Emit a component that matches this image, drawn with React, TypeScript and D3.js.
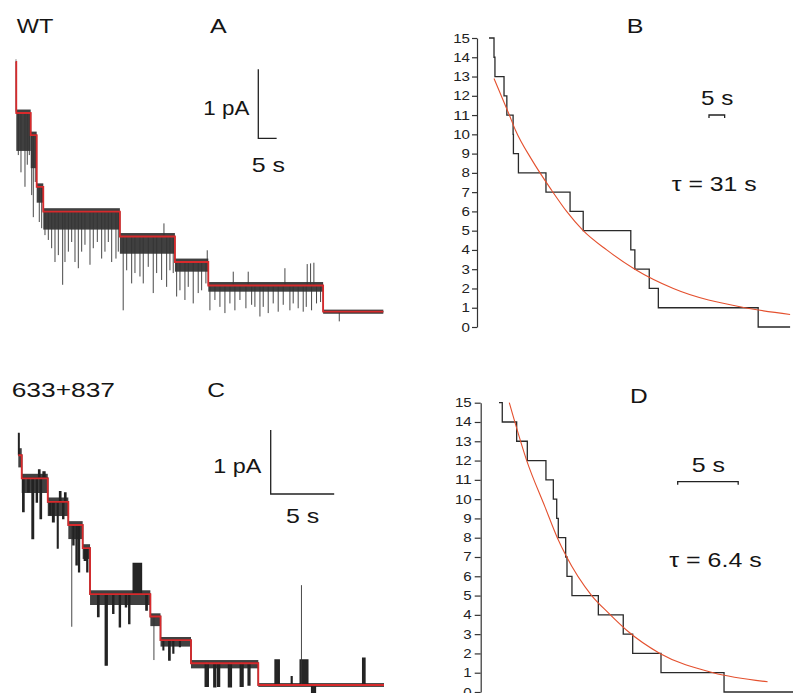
import React, { useEffect, useRef } from "react";
import * as d3 from "d3";

// ---------- A: WT current trace (time s, current pA above baseline)
// idealised levels [t0, t1, pA]
const A_LEVELS: [number, number, number][] = [
  [0, 0.16, 3.62], [0.16, 4.09, 2.88], [4.09, 5.72, 2.56], [5.72, 7.52, 1.81],
  [7.52, 28.4, 1.45], [28.4, 43.4, 1.09], [43.4, 52.5, 0.72], [52.5, 83.8, 0.38],
  [83.8, 100.2, 0],
];
// dense flicker band around each level (pA)
const A_BAND_HIGH = [3.66, 2.93, 2.61, 1.86, 1.5, 1.14, 0.77, 0.43, 0.03];
const A_BAND_LOW = [2.9, 2.33, 2.08, 1.58, 1.19, 0.84, 0.58, 0.29, -0.03];
// brief excursions [t, pA]
const A_SPIKES: [number, number][] = [
  [0.71, 2.27], [1.44, 2.02], [2.53, 1.81], [3.16, 2.13], [3.71, 2.27],
  [4.36, 1.69], [4.8, 1.37], [5.34, 1.88],
  [6.43, 1.3], [7.08, 1.21],
  [7.98, 1.11], [8.89, 1.04], [9.8, 0.92], [10.71, 0.72], [11.62, 0.82], [12.8, 0.39],
  [13.43, 0.72], [14.35, 0.87], [15.26, 1.01], [16.16, 0.72], [17.07, 0.63], [17.98, 0.87],
  [18.88, 0.97], [20.25, 0.68], [21.15, 0.92], [22.25, 1.01], [23.43, 0.77], [24.33, 0.87],
  [25.24, 1.01], [26.16, 0.72], [27.33, 0.77], [27.97, 0.87],
  [29.3, 0.02], [30.25, 0.6], [31.61, 0.41], [32.51, 0.56], [33.87, 0.51], [34.77, 0.41],
  [36.13, 0.65], [37.49, 0.27], [38.42, 0.56], [39.78, 0.46], [40.41, 1.28], [41.14, 0.36],
  [42.04, 0.6], [42.94, 0.56],
  [43.87, 0.22], [44.77, 0.31], [46.13, 0.17], [47.03, 0.36], [48.39, 0.12], [49.75, 0.27],
  [50.68, 0.31], [51.85, 0.41], [52.21, 0.89],
  [52.94, 0.02], [54.3, 0.17], [55.67, 0.07], [57.03, -0.02], [58.39, 0.12], [59.3, 0.58],
  [59.75, 0.02], [61.12, 0.17], [62.75, 0.05], [63.38, 0.58], [64.31, 0.1], [65.2, 0.07],
  [66.57, -0.07], [67.47, 0.07], [68.83, -0.02], [70.19, 0.12], [71.55, 0.0], [72.92, 0.1],
  [73.38, 0.63], [74.74, 0.02], [75.64, 0.12], [77.0, 0.05], [78.37, 0.0], [79.2, 0.07],
  [79.46, 0.69], [80.38, 0.7], [80.65, 0.02], [81.28, 0.71], [82.0, 0.12], [83.1, 0.14],
  [88.2, -0.14],
];

// ---------- C: 633+837 current trace
const C_LEVELS: [number, number, number][] = [
  [0, 0.27, 3.59], [0.27, 2.32, 3.23], [2.32, 3.94, 2.86], [3.94, 5.07, 2.5],
  [5.07, 5.65, 2.14], [5.65, 10.4, 1.42], [10.4, 11.2, 1.07], [11.2, 13.6, 0.7],
  [13.6, 18.9, 0.34], [18.9, 28.8, 0],
];
const C_BAND_HIGH = [3.7, 3.3, 2.93, 2.56, 2.2, 1.48, 1.12, 0.75, 0.39, 0.03];
const C_BAND_LOW = [3.4, 3.0, 2.64, 2.28, 1.97, 1.25, 0.92, 0.6, 0.26, -0.03];
// longer dwell excursions [t0, t1, pA]
const C_EVENTS: [number, number, number][] = [
  [0.02, 0.06, 3.93],
  [0.35, 0.45, 2.71], [0.75, 0.85, 3.02], [1.08, 1.2, 2.29], [1.42, 1.5, 2.86], [1.6, 1.7, 3.36],
  [1.72, 1.82, 2.6], [1.95, 2.1, 3.33],
  [2.45, 2.55, 2.66], [2.7, 2.82, 2.55], [3.08, 3.13, 2.14], [3.25, 3.35, 3.02], [3.5, 3.58, 2.6],
  [3.65, 3.75, 3.0],
  [4.3, 4.38, 2.19], [4.55, 4.63, 1.88], [4.75, 4.82, 1.77],
  [5.2, 5.3, 1.95], [5.4, 5.47, 1.77],
  [6.25, 6.35, 1.07], [6.85, 7.0, 0.31], [7.44, 7.52, 1.12], [7.96, 8.04, 0.91], [8.44, 8.52, 1.22],
  [8.7, 8.78, 0.96], [9.05, 9.7, 1.9], [10.05, 10.15, 1.17],
  [11.4, 11.45, 0.55], [11.85, 11.95, 0.39], [12.18, 12.24, 0.5], [12.7, 12.76, 0.6],
  [14.72, 14.96, -0.02], [15.4, 15.55, -0.03], [15.7, 15.85, -0.02], [16.55, 16.78, -0.03],
  [17.48, 17.7, -0.02], [18.1, 18.24, 0.0],
  [20.22, 20.55, 0.39], [21.5, 21.56, 0.13], [22.2, 22.8, 0.39], [23.1, 23.4, -0.12],
  [27.12, 27.3, 0.42],
];
const C_SPIKES: [number, number][] = [[4.21, 0.91], [10.68, 0.39], [22.3, 1.56]];

// ---------- B / D: number of open channels vs time
const COUNT_TICKS = [0, 1, 2, 3, 4, 5, 6, 7, 8, 9, 10, 11, 12, 13, 14, 15];
const B_DROPS = [1.6, 1.9, 4.8, 5.7, 7.7, 7.8, 9.4, 18.2, 25.9, 30.1, 45.3, 46.6, 51.2, 54.1, 86.0];
const B_END = 96.2;
const B_FIT: [number, number][] = [
  [1.6, 12.9], [6.5, 11], [8.5, 10.2], [13.6, 8.7], [20, 7.1], [24.8, 6], [30.1, 5],
  [37.6, 4], [46.6, 3], [58.9, 2], [81.8, 1], [96.2, 0.65],
];
const D_DROPS = [0.27, 1.46, 2.34, 3.88, 4.49, 4.77, 4.9, 5.51, 5.62, 6.03, 8.21, 10.27, 11.05, 13.39, 18.6];
const D_END = 24.3;
const D_FIT: [number, number][] = [
  [0.85, 15], [2.29, 12], [3.8, 9.6], [4.82, 8], [5.51, 7.1], [7.66, 5], [9.04, 4.1],
  [10.55, 3.2], [13.3, 2], [17.7, 1], [22.2, 0.53],
];
const BAR_PA = 1;
const BAR_S = 5;

const FONT = "'Liberation Sans', Arial, Helvetica, sans-serif";
const INK = "#222";
const RED = "#d82a2c";
const FIT_RED = "#e4502e";

function drawTrace(g, x, y, levels, bandHigh, bandLow, events, spikes, lw) {
  g.selectAll(null).data(levels).enter().append("rect")
    .attr("x", d => x(d[0]))
    .attr("width", d => x(d[1]) - x(d[0]))
    .attr("y", (d, i) => y(bandHigh[i]))
    .attr("height", (d, i) => y(bandLow[i]) - y(bandHigh[i]))
    .attr("fill", "#1e1e1e")
    .attr("opacity", 0.85);

  const levelAt = t => (levels.find(s => t >= s[0] && t < s[1]) || levels[levels.length - 1])[2];

  // dwell excursions, filled (fast flicker reads as solid ink)
  g.selectAll(null).data(events).enter().append("rect")
    .attr("x", d => x(d[0]))
    .attr("width", d => Math.max(0.8, x(d[1]) - x(d[0])))
    .attr("y", d => y(Math.max(d[2], levelAt(d[0]))))
    .attr("height", d => Math.abs(y(d[2]) - y(levelAt(d[0]))))
    .attr("fill", "#262626");

  const pts: [number, number][] = [];
  levels.forEach(([t0, t1, v]) => {
    pts.push([t0, v]);
    events.filter(e => e[0] >= t0 && e[0] < t1).forEach(([e0, e1, I]) => {
      pts.push([e0, v], [e0, I], [e1, I], [e1, v]);
    });
    pts.push([t1, v]);
  });
  g.append("path")
    .attr("d", d3.line().x(d => x(d[0])).y(d => y(d[1]))(pts))
    .attr("fill", "none").attr("stroke", INK).attr("stroke-width", lw);

  g.selectAll(null).data(spikes).enter().append("line")
    .attr("x1", d => x(d[0])).attr("x2", d => x(d[0]))
    .attr("y1", d => y(levelAt(d[0]))).attr("y2", d => y(d[1]))
    .attr("stroke", "#333").attr("stroke-width", 0.9);

  const last = levels[levels.length - 1];
  const redPts = levels.map(d => [d[0], d[2]]).concat([[last[1], last[2]]]);
  g.append("path")
    .attr("d", d3.line().curve(d3.curveStepAfter).x(d => x(d[0])).y(d => y(d[1]))(redPts))
    .attr("fill", "none").attr("stroke", RED).attr("stroke-width", 1.8);
}

function drawCounts(g, x, y, axisX, tick, pad, drops, end, fit) {
  const ax = g.append("g")
    .attr("transform", `translate(${axisX},0)`)
    .call(d3.axisLeft(y).tickValues(COUNT_TICKS).tickSize(tick).tickPadding(pad).tickSizeOuter(0));
  ax.select(".domain").attr("stroke", "#333").attr("stroke-width", 1.2);
  ax.selectAll(".tick line").attr("stroke", "#333").attr("stroke-width", 1.2);
  ax.selectAll(".tick text")
    .attr("font-family", FONT).attr("font-size", 12.5).attr("fill", INK)
    .attr("textLength", d => String(d).length * 8.4)
    .attr("lengthAdjust", "spacingAndGlyphs");

  const stairs = [[0, 15]].concat(drops.map((t, i) => [t, 14 - i])).concat([[end, 0]]);
  g.append("path")
    .attr("d", d3.line().curve(d3.curveStepAfter).x(d => x(d[0])).y(d => y(d[1]))(stairs))
    .attr("fill", "none").attr("stroke", "#2a2a2a").attr("stroke-width", 1.3);

  g.append("path")
    .attr("d", d3.line().curve(d3.curveMonotoneX).x(d => x(d[0])).y(d => y(d[1]))(fit))
    .attr("fill", "none").attr("stroke", FIT_RED).attr("stroke-width", 1.1);
}

function label(svg, text, x, y, w) {
  svg.append("text")
    .attr("x", x).attr("y", y)
    .attr("font-family", FONT).attr("font-size", 21).attr("fill", "#151515")
    .attr("textLength", w).attr("lengthAdjust", "spacingAndGlyphs")
    .text(text);
}

export default function App() {
  const svgRef = useRef<SVGSVGElement>(null);

  useEffect(() => {
    const svg = d3.select(svgRef.current);
    svg.selectAll("*").remove();

    // ---- A
    const xA = d3.scaleLinear().domain([0, 100.2]).range([15.7, 383.3]);
    const yA = d3.scaleLinear().domain([0, 1]).range([311.7, 242.7]);
    drawTrace(svg.append("g"), xA, yA, A_LEVELS, A_BAND_HIGH, A_BAND_LOW, [], A_SPIKES, 1);

    // ---- C
    const xC = d3.scaleLinear().domain([0, 28.8]).range([18.3, 384]);
    const yC = d3.scaleLinear().domain([0, 1]).range([685, 621]);
    drawTrace(svg.append("g"), xC, yC, C_LEVELS, C_BAND_HIGH, C_BAND_LOW, C_EVENTS, C_SPIKES, 1.4);

    // ---- B
    const xB = d3.scaleLinear().domain([0, B_END]).range([489, 489 + 3.13 * B_END]);
    const yB = d3.scaleLinear().domain([0, 15]).range([327, 38]);
    drawCounts(svg.append("g"), xB, yB, 477, 5, 2, B_DROPS, B_END, B_FIT);

    // ---- D
    const xD = d3.scaleLinear().domain([0, D_END]).range([499, 793]);
    const yD = d3.scaleLinear().domain([0, 15]).range([692, 402.7]);
    drawCounts(svg.append("g"), xD, yD, 480.7, 6, 3, D_DROPS, D_END, D_FIT);

    // ---- scale bars
    const bars = svg.append("g").attr("fill", "none").attr("stroke", INK).attr("stroke-width", 1.3);
    const lShape = (cx, cy, x, y) => {
      const h = y(0) - y(BAR_PA);
      const w = x(BAR_S) - x(0);
      bars.append("path").attr("d", `M${cx},${cy - h}V${cy}H${cx + w}`);
    };
    lShape(258.3, 138.3, xA, yA);
    lShape(270.7, 494, xC, yC);
    const bracket = (x0, yy, x) => {
      const w = x(BAR_S) - x(0);
      bars.append("path").attr("d", `M${x0},${yy + 3}V${yy}H${x0 + w}V${yy + 3}`);
    };
    bracket(709, 115, xB);
    bracket(677.7, 481.7, xD);

    // ---- text
    label(svg, "WT", 16.7, 33.3, 36.6);
    label(svg, "A", 210, 33.3, 16.7);
    label(svg, "1 pA", 203.3, 115, 46);
    label(svg, "5 s", 251.7, 171.7, 33.3);
    label(svg, "B", 626.7, 33.3, 16.7);
    label(svg, "5 s", 701, 105, 32.3);
    label(svg, "\u03c4 = 31 s", 671.7, 191, 85);
    label(svg, "633+837", 11.7, 396.7, 103.3);
    label(svg, "C", 207.3, 396.7, 17.7);
    label(svg, "1 pA", 213.3, 473.3, 48);
    label(svg, "5 s", 286, 523.3, 33.3);
    label(svg, "D", 630, 403.3, 17.7);
    label(svg, "5 s", 691.7, 471.7, 33.3);
    label(svg, "\u03c4 = 6.4 s", 669.3, 566.7, 92.4);
  }, []);

  return (
    <svg
      ref={svgRef}
      width={793}
      height={693}
      style={{ position: "absolute", left: 0, top: 0, background: "#fff" }}
    />
  );
}
